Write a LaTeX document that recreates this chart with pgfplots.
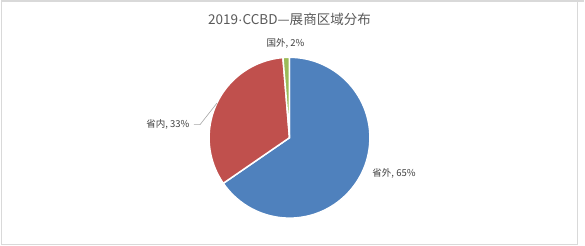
\documentclass[border=0pt]{standalone}
\usepackage{pgfplots}
\pgfplotsset{compat=1.18}
\usepackage{pgfplotstable}
\usepackage{fontspec}
\setmainfont{Noto Sans CJK SC}
\newfontfamily\latinfont{Liberation Sans}
\definecolor{sblue}{HTML}{4F81BD}
\definecolor{sred}{HTML}{C0504D}
\definecolor{sgreen}{HTML}{9BBB59}
\definecolor{titlegray}{HTML}{595959}
\definecolor{labelgray}{HTML}{404040}
\definecolor{framegray}{HTML}{D9D9D9}
\pgfplotstableread{
name value
省外 65.4
省内 33.3
国外 1.3
}\piedata
\begin{document}
\begin{tikzpicture}
\begin{axis}[
  x=1bp, y=1bp,
  xmin=0, xmax=585, ymin=0, ymax=249,
  hide axis, clip=false,
  scale only axis,
  anchor=origin, at={(0,0)},
]
% frame
\draw[framegray, line width=0.8bp] (axis cs:5.5,248) -- (axis cs:5.5,5.5) -- (axis cs:578,5.5) -- (axis cs:578,248);
\draw[framegray, line width=2bp] (axis cs:5,248) -- (axis cs:585,248);
% values
\pgfplotstablegetelem{0}{value}\of\piedata \let\va\pgfplotsretval
\pgfplotstablegetelem{1}{value}\of\piedata \let\vb\pgfplotsretval
\pgfplotstablegetelem{2}{value}\of\piedata \let\vc\pgfplotsretval
\pgfmathsetmacro\aA{90}
\pgfmathsetmacro\aB{90-3.6*\va}
\pgfmathsetmacro\aC{\aB-3.6*\vb}
\pgfmathsetmacro\aD{\aC-3.6*\vc}
\pgfmathsetmacro\mB{(\aB+\aC)/2}
\fill[sblue, draw=white, line width=1.5bp] (axis cs:292,112) -- ++(\aA:80bp) arc[start angle=\aA, end angle=\aB, radius=80bp] -- cycle;
\fill[sred, draw=white, line width=1.5bp] (axis cs:292,112) -- ++(\aB:80bp) arc[start angle=\aB, end angle=\aC, radius=80bp] -- cycle;
\fill[sgreen, draw=white, line width=1.5bp] (axis cs:292,112) -- ++(\aC:80bp) arc[start angle=\aC, end angle=\aD, radius=80bp] -- cycle;
% leader line for 省内
\draw[gray!70, line width=0.6bp] (axis cs:292,112) ++(\mB:80bp) -- (axis cs:203,125) -- (axis cs:197,125);
% title and labels
\node[text=titlegray, font=\fontsize{13.5}{15}\selectfont] at (axis cs:292,230) {2019{\latinfont ·}CCBD—展商区域分布};
\node[text=labelgray, font=\fontsize{9.5}{11}\selectfont] at (axis cs:288,206) {国外, 2\%};
\node[text=labelgray, font=\fontsize{9.5}{11}\selectfont, anchor=east] at (axis cs:196,125) {省内, 33\%};
\node[text=labelgray, font=\fontsize{9.5}{11}\selectfont] at (axis cs:396,76) {省外, 65\%};
\end{axis}
\end{tikzpicture}
\end{document}
